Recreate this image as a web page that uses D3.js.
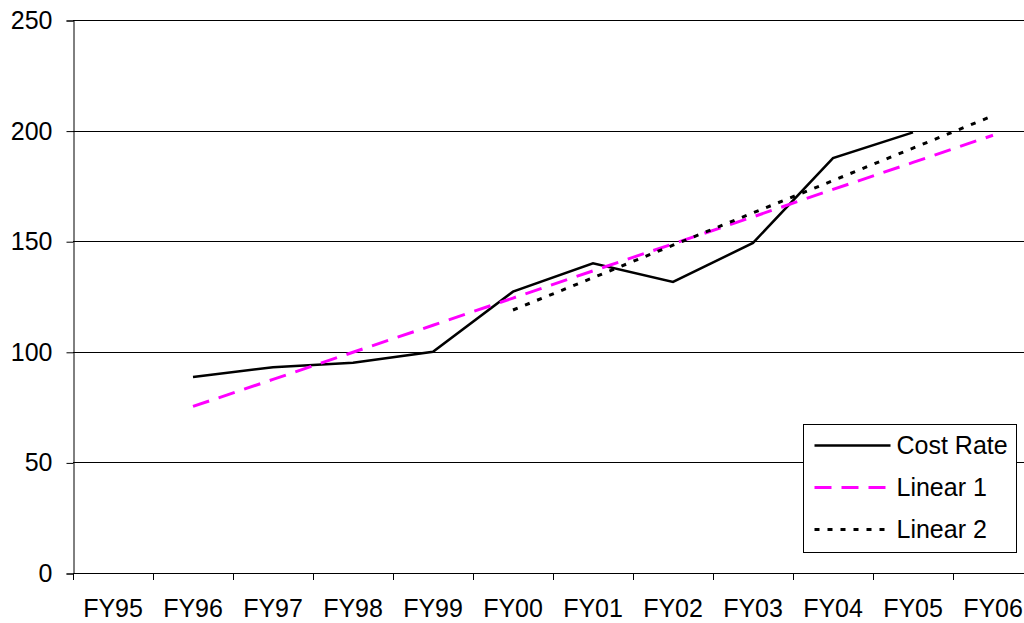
<!DOCTYPE html>
<html lang="en">
<head>
<meta charset="UTF-8">
<title>Cost Rate</title>
<script src="https://d3js.org/d3.v7.min.js"></script>
<style>
body { margin: 0; background: #fff; }
text { font-family: "Liberation Sans", Arial, sans-serif; font-size: 25px; fill: #000; }
</style>
</head>
<body>
<div id="chart"></div>
<script>
const years = ["FY95", "FY96", "FY97", "FY98", "FY99", "FY00", "FY01", "FY02", "FY03", "FY04", "FY05", "FY06"];
const costRate = [null, 88.6, 93, 95.1, 100, 127.2, 140, 131.6, 149.2, 187.6, 199.2, null];
const linear1 = [null, 75.3, 87.5, 99.8, 112, 124.3, 136.6, 148.8, 161, 173.4, 185.6, 197.9];
const linear2 = [null, null, null, null, null, 118.9, 133.5, 148.2, 162.8, 177.4, 192.1, 206.7];
const yTicks = [0, 50, 100, 150, 200, 250];

const width = 1024, height = 623;
const plotLeft = 73, plotTop = 20, plotBottom = 573;
const font = "Liberation Sans, Arial, sans-serif";

const svg = d3.select("#chart").append("svg")
    .attr("width", width)
    .attr("height", height);

const x = d3.scaleBand().domain(years).range([plotLeft, plotLeft + 80 * years.length]).padding(0);
const y = d3.scaleLinear().domain([0, 250]).range([plotBottom, plotTop]);
const cx = d => x(d) + x.bandwidth() / 2;

// gridlines
svg.append("g")
    .selectAll("line")
    .data(yTicks.slice(1))
    .join("line")
    .attr("x1", plotLeft).attr("x2", width)
    .attr("y1", d => Math.round(y(d)) + 0.5)
    .attr("y2", d => Math.round(y(d)) + 0.5)
    .attr("stroke", "#000").attr("stroke-width", 1);

// y axis
const yAxis = svg.append("g")
    .attr("transform", `translate(${plotLeft + 0.5},0.5)`)
    .call(d3.axisLeft(y).tickValues(yTicks).tickSize(7).tickPadding(14));
yAxis.select(".domain").attr("stroke", "#000");
yAxis.selectAll("text").attr("font-size", 25).attr("font-family", font);

// x axis
const xAxis = svg.append("g")
    .attr("transform", `translate(0,${plotBottom + 0.5})`)
    .call(d3.axisBottom(x).tickSize(0).tickPadding(35));
xAxis.select(".domain").attr("d", `M${plotLeft},0H${plotLeft + 80 * years.length}`).attr("stroke", "#000");
xAxis.selectAll("text").attr("font-size", 25).attr("font-family", font);
xAxis.selectAll(".tick text").attr("dy", "0.35em");

svg.append("g")
    .selectAll("line")
    .data(years.map(d => x(d)))
    .join("line")
    .attr("x1", d => d + 0.5).attr("x2", d => d + 0.5)
    .attr("y1", plotBottom).attr("y2", plotBottom + 7)
    .attr("stroke", "#000");

function series(values) {
    return years.map((c, i) => ({ c, v: values[i] })).filter(d => d.v != null);
}
const line = d3.line().x(d => cx(d.c)).y(d => y(d.v));

svg.append("path")
    .datum(series(costRate))
    .attr("d", line)
    .attr("fill", "none").attr("stroke", "#000").attr("stroke-width", 2.5);

svg.append("path")
    .datum(series(linear1))
    .attr("d", line)
    .attr("fill", "none").attr("stroke", "#ff00ff").attr("stroke-width", 3)
    .attr("stroke-dasharray", "17,10");

svg.append("path")
    .datum(series(linear2))
    .attr("d", line)
    .attr("fill", "none").attr("stroke", "#000").attr("stroke-width", 3)
    .attr("stroke-dasharray", "5,8");

// legend
const legendItems = [
    { name: "Cost Rate", color: "#000", dash: null, w: 2.5 },
    { name: "Linear 1", color: "#ff00ff", dash: "17,10", w: 3 },
    { name: "Linear 2", color: "#000", dash: "5,8", w: 3 }
];
const lg = svg.append("g").attr("transform", "translate(803.5,424.5)");
lg.append("rect").attr("width", 213).attr("height", 128)
    .attr("fill", "#fff").attr("stroke", "#000");
const row = lg.selectAll("g").data(legendItems).join("g")
    .attr("transform", (d, i) => `translate(0,${21 + i * 42})`);
row.append("line")
    .attr("x1", 11).attr("x2", 87)
    .attr("stroke", d => d.color).attr("stroke-width", d => d.w)
    .attr("stroke-dasharray", d => d.dash);
row.append("text")
    .attr("x", 93).attr("dy", "0.35em")
    .text(d => d.name);
</script>
</body>
</html>
